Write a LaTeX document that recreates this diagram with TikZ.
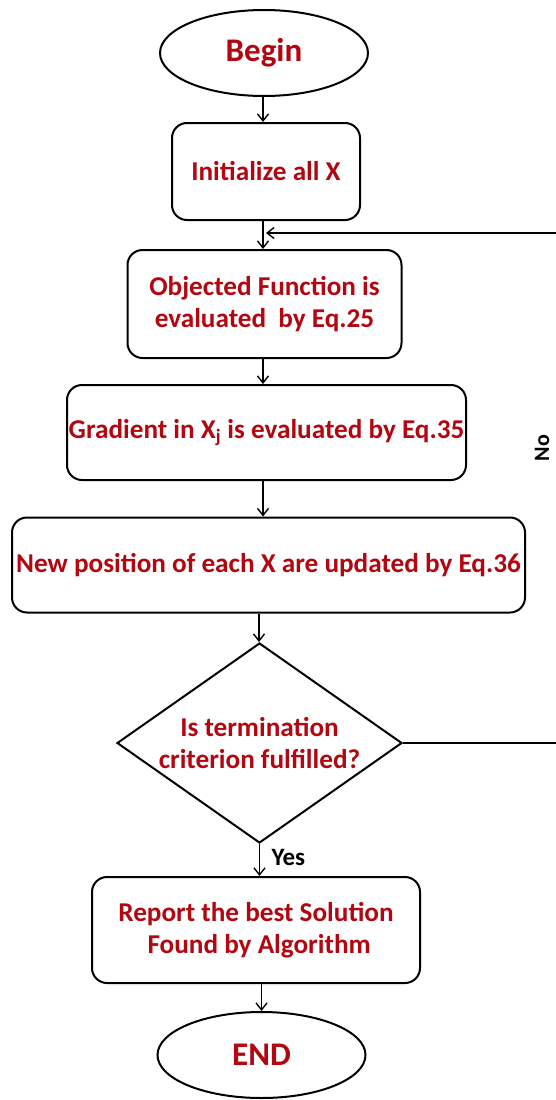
\documentclass[tikz,border=0pt]{standalone}
\usepackage{fontspec}
\setmainfont{Carlito}
\usetikzlibrary{shapes.geometric,arrows.meta,calc}
\definecolor{txtred}{RGB}{178,6,16}
\begin{document}
\begin{tikzpicture}[x=1pt,y=-1pt,
  box/.style={draw, line width=2pt, rounded corners=15pt, inner sep=0pt, align=center,
    font=\fontsize{27.2}{32}\selectfont\bfseries, text=txtred},
  txt/.style={inner sep=0pt, align=center, font=\fontsize{27.2}{32}\selectfont\bfseries, text=txtred},
  term/.style={draw, ellipse, line width=2pt, inner sep=0pt,
    font=\fontsize{33}{38}\selectfont\bfseries, text=txtred},
  dec/.style={diamond, draw, line width=2pt, inner sep=0pt},
  arr/.style={line width=1.4pt, -{Straight Barb[length=7pt,width=11pt]}},
  lbl/.style={font=\fontsize{25}{28}\selectfont\bfseries, text=black}]
\useasboundingbox (0,0) rectangle (555,1100);
\fill[white] (0,0) rectangle (555,1100);

\node[term, minimum width=208pt, minimum height=86pt] (begin) at (264,53) {Begin};
\node[box, minimum width=188pt, minimum height=97pt] (init) at (266,171.5) {Initialize all X};
\node[box, minimum width=274pt, minimum height=108pt] (obj) at (264.5,304) {Objected Function is\\evaluated~~by Eq.25};
\node[box, minimum width=399pt, minimum height=95pt] (grad) at (266.5,432.5) {Gradient in X\textsubscript{j} is evaluated by Eq.35};
\node[box, minimum width=513pt, minimum height=95pt] (newp) at (268.5,565) {New position of each X are updated by Eq.36};
\node[dec, minimum width=285pt, minimum height=200pt] (dec) at (259.5,743) {};
\node[txt] (dectxt) at (259.5,743) {Is termination\\criterion fulfilled?};
\node[box, minimum width=328pt, minimum height=106pt] (rep) at (256,930) {Report the best Solution\\~Found by Algorithm};
\node[term, minimum width=208pt, minimum height=86pt] (end) at (261.5,1055) {END};

\node[lbl, anchor=west] (yes) at (268,857) {Yes};
\node[lbl, rotate=90, font=\fontsize{22}{24}\selectfont\bfseries] (no) at (542,448) {No};

\coordinate (sp1) at (263,0);
\coordinate (sp2) at (259,0);
\coordinate (fbx) at (585,0);
\coordinate (fbin) at (266,233);

\draw[arr] (begin.south -| sp1) -- (init.north -| sp1);
\draw[arr] (init.south -| sp1) -- (obj.north -| sp1);
\draw[arr] (obj.south -| sp1) -- (grad.north -| sp1);
\draw[arr] (grad.south -| sp1) -- (newp.north -| sp1);
\draw[arr] (newp.south -| sp2) -- (dec.north -| sp2);
\draw[arr] (dec.south) -- (rep.north -| dec.south);
\draw[arr] (rep.south -| end.north) -- (end.north);
\draw[arr] (dec.east) -- (dec.east -| fbx) -- (fbx |- fbin) -- (fbin);
\end{tikzpicture}
\end{document}
